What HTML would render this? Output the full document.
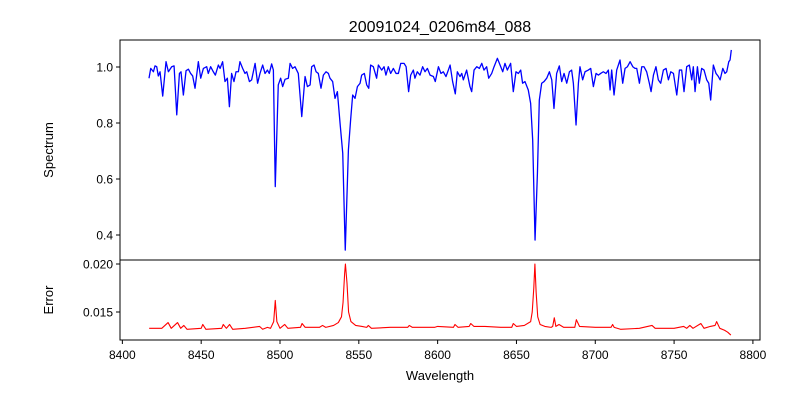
<!DOCTYPE html>
<html><head><meta charset="utf-8"><style>
body{margin:0;background:#fff}
svg{display:block;font-family:"Liberation Sans","DejaVu Sans",sans-serif}
</style></head><body>
<svg id="c" width="800" height="400" viewBox="0 0 800 400">
<rect width="800" height="400" fill="#fff"/>
<text x="440" y="32" font-size="16" text-anchor="middle">20091024_0206m84_088</text>
<text transform="translate(53,150) rotate(-90)" font-size="13" text-anchor="middle">Spectrum</text>
<text transform="translate(53,300) rotate(-90)" font-size="13" text-anchor="middle">Error</text>
<text x="440" y="380" font-size="13" text-anchor="middle">Wavelength</text>
</svg>
<script>
const wave = [8416.9,8418.0,8419.7,8420.7,8421.8,8422.8,8423.9,8425.6,8427.7,8429.2,8431.3,8432.8,8434.5,8436.2,8437.2,8438.7,8440.4,8441.9,8443.3,8444.6,8446.1,8448.2,8449.7,8451.4,8453.5,8454.5,8456.0,8457.7,8459.0,8460.9,8462.0,8463.6,8465.1,8466.6,8467.9,8469.3,8470.8,8472.1,8473.6,8474.6,8476.3,8477.8,8478.9,8480.6,8482.0,8484.2,8485.8,8487.3,8489.0,8490.5,8492.0,8493.2,8494.7,8495.8,8497.0,8498.9,8500.4,8501.7,8503.2,8505.3,8506.4,8508.0,8509.5,8511.6,8513.8,8515.9,8517.4,8519.1,8520.1,8521.6,8522.9,8524.3,8526.0,8527.5,8529.2,8530.7,8531.7,8533.4,8534.9,8536.4,8538.1,8539.8,8541.4,8543.4,8544.8,8546.1,8547.6,8549.1,8550.8,8551.8,8553.5,8555.0,8556.3,8557.5,8559.2,8561.3,8562.4,8564.5,8566.0,8567.2,8568.7,8570.2,8571.9,8573.6,8575.1,8576.6,8578.7,8580.0,8581.6,8582.9,8584.6,8585.6,8587.1,8588.8,8590.5,8592.0,8593.5,8595.2,8597.3,8598.5,8600.5,8602.1,8603.6,8605.3,8606.8,8607.9,8609.5,8611.2,8612.5,8614.2,8615.3,8616.3,8618.4,8620.5,8621.6,8623.1,8624.8,8626.5,8628.0,8629.4,8631.1,8632.4,8634.3,8635.8,8637.9,8639.6,8641.3,8642.7,8644.2,8646.3,8648.0,8649.7,8651.2,8652.7,8653.9,8655.4,8657.5,8659.0,8660.3,8661.8,8663.3,8664.5,8666.0,8667.5,8669.2,8670.9,8672.4,8673.8,8675.5,8677.2,8678.7,8680.2,8681.9,8683.6,8685.0,8686.1,8687.8,8689.3,8690.3,8692.0,8693.5,8695.6,8697.1,8698.8,8700.5,8702.0,8703.4,8705.1,8706.8,8708.3,8709.4,8710.4,8711.9,8713.6,8715.7,8717.4,8718.9,8720.4,8722.1,8723.8,8725.2,8726.3,8728.0,8729.5,8730.9,8732.6,8734.3,8735.4,8736.9,8738.5,8740.0,8741.5,8743.2,8744.9,8746.4,8747.9,8749.6,8751.7,8753.4,8754.8,8756.3,8758.0,8759.7,8761.2,8762.2,8763.3,8764.8,8766.0,8767.5,8769.0,8770.7,8772.0,8773.2,8774.9,8776.6,8778.1,8779.2,8780.9,8782.3,8783.4,8784.7,8785.5,8786.3];
const flux = [0.960,0.995,0.983,1.004,1.001,0.968,0.983,0.896,1.019,0.983,1.001,1.004,0.829,0.977,0.983,0.900,0.987,0.992,0.977,0.968,0.924,1.019,0.960,0.995,1.001,0.977,1.001,0.983,0.971,1.007,0.995,1.019,0.948,0.960,0.858,0.977,0.948,0.983,0.983,1.019,0.995,0.977,0.983,0.948,0.954,1.013,0.942,0.977,1.007,0.977,0.989,0.977,1.011,0.989,0.573,0.936,0.960,0.930,0.956,0.960,1.013,0.995,1.001,0.977,0.823,0.966,0.930,0.936,1.001,1.007,0.983,0.977,0.924,0.971,0.983,0.977,0.960,0.948,0.888,0.912,0.799,0.692,0.346,0.704,0.811,0.900,0.888,0.930,0.942,0.971,0.977,0.936,0.924,1.007,1.001,0.960,1.007,0.989,1.001,0.971,1.001,0.977,0.995,0.977,0.977,1.013,1.013,1.001,0.912,0.971,0.989,0.960,0.983,0.971,1.001,0.983,0.995,0.971,0.966,0.948,1.001,0.977,0.983,0.966,0.989,1.007,0.948,0.904,0.983,0.966,0.977,0.954,0.989,0.930,0.912,0.989,1.001,0.995,1.013,0.989,1.001,0.960,0.977,1.001,1.031,1.007,0.983,1.013,0.989,1.013,0.912,0.983,0.977,0.989,0.942,0.948,0.918,0.870,0.739,0.382,0.620,0.882,0.942,0.948,0.960,0.983,0.954,0.852,0.977,1.004,0.948,0.977,0.942,0.983,0.989,0.942,0.793,0.942,1.001,0.954,0.983,0.989,0.995,0.930,0.977,0.971,0.977,0.983,0.977,0.989,0.918,0.989,0.900,0.989,1.025,0.942,0.995,1.001,1.019,1.001,0.995,0.995,0.942,1.001,1.001,0.983,0.942,0.912,0.971,1.001,0.954,0.942,0.989,0.995,0.954,0.983,0.977,0.900,0.989,0.989,0.912,1.001,1.007,0.954,1.001,0.912,1.001,0.942,0.995,0.989,0.954,0.942,0.882,1.007,0.977,0.966,0.954,0.995,0.977,0.983,1.019,1.025,1.061];
const errWave = [8417,8425,8427,8429,8431,8435,8437,8439,8441,8450,8451,8453,8463,8464,8466,8468,8470,8478,8487,8489,8492,8494,8496,8497,8498,8500,8503,8505,8513,8514,8516,8525,8527,8529,8534,8537,8539,8540,8541,8541.5,8542.5,8543.5,8545,8548,8552,8555,8556,8558,8570,8581,8582,8584,8598,8600,8610,8611,8613,8620,8621,8623,8630,8640,8647,8648,8650,8655,8659,8660,8661,8661.7,8662.5,8663.5,8665,8668,8672,8673,8674,8675,8677,8680,8687,8688,8690,8700,8710,8711,8712,8716,8728,8736,8738,8750,8756,8758,8760,8762,8767,8769,8773,8776,8777,8779,8782,8784,8786];
const errVal = [0.0133,0.0133,0.0136,0.0139,0.0133,0.0139,0.0133,0.0136,0.0132,0.0133,0.0137,0.0132,0.0133,0.0137,0.0133,0.0137,0.0132,0.0133,0.0135,0.0132,0.0134,0.0133,0.0140,0.0162,0.0140,0.0133,0.0137,0.0133,0.0134,0.0138,0.0134,0.0134,0.0136,0.0134,0.0136,0.0139,0.0145,0.0160,0.0190,0.0200,0.0180,0.0150,0.0140,0.0136,0.0135,0.0134,0.0136,0.0133,0.0134,0.0134,0.0136,0.0134,0.0134,0.0135,0.0134,0.0137,0.0134,0.0135,0.0138,0.0135,0.0135,0.0134,0.0134,0.0138,0.0135,0.0136,0.0140,0.0150,0.0175,0.0200,0.0170,0.0145,0.0137,0.0135,0.0134,0.0135,0.0144,0.0135,0.0137,0.0134,0.0134,0.0142,0.0135,0.0134,0.0134,0.0137,0.0134,0.0132,0.0133,0.0136,0.0133,0.0133,0.0135,0.0133,0.0136,0.0133,0.0138,0.0133,0.0135,0.0136,0.0140,0.0133,0.0131,0.0129,0.0126];
const xTicks = [8400,8450,8500,8550,8600,8650,8700,8750,8800];
const specTicks = [0.4,0.6,0.8,1.0];
const errTicks = [0.015,0.020];

const NS="http://www.w3.org/2000/svg", svg=document.getElementById('c');
const X0=120,X1=760,XMIN=8398.5,XMAX=8804.5;
const xS=v=>X0+(v-XMIN)/(XMAX-XMIN)*(X1-X0);
const yS=v=>67+(1.0-v)*280;
const yE=v=>312-(v-0.015)*9600;
function mk(tag,attrs){const e=document.createElementNS(NS,tag);for(const k in attrs)e.setAttribute(k,attrs[k]);svg.appendChild(e);return e;}

let p=mk('path',{d:wave.map((w,i)=>(i?'L':'M')+xS(w).toFixed(2)+','+yS(flux[i]).toFixed(2)).join(''),fill:'none',stroke:'#0000ff','stroke-width':1.3,'stroke-linejoin':'round'});


let q=mk('path',{d:errWave.map((w,i)=>(i?'L':'M')+xS(w).toFixed(2)+','+yE(errVal[i]).toFixed(2)).join(''),fill:'none',stroke:'#ff0000','stroke-width':1.1,'stroke-linejoin':'round'});



let f1=mk('rect',{x:X0,y:40,width:640,height:220,fill:'none',stroke:'#000','stroke-width':1});


let f2=mk('rect',{x:X0,y:260,width:640,height:80,fill:'none',stroke:'#000','stroke-width':1});



xTicks.forEach(t=>{const x=xS(t);
 mk('line',{x1:x,x2:x,y1:340,y2:344,stroke:'#000'});
 const tx=mk('text',{x:x,y:359,'font-size':12,'text-anchor':'middle'});tx.textContent=t;
 
 });
specTicks.forEach(t=>{const y=yS(t);
 mk('line',{x1:X0-4,x2:X0,y1:y,y2:y,stroke:'#000'});
 const tx=mk('text',{x:113,y:y+4.5,'font-size':12,'text-anchor':'end'});tx.textContent=t.toFixed(1);
 
 });
errTicks.forEach(t=>{const y=yE(t);
 mk('line',{x1:X0-4,x2:X0,y1:y,y2:y,stroke:'#000'});
 const tx=mk('text',{x:113,y:y+4.5,'font-size':12,'text-anchor':'end'});tx.textContent=t.toFixed(3);
 
 });
</script>
</body></html>
